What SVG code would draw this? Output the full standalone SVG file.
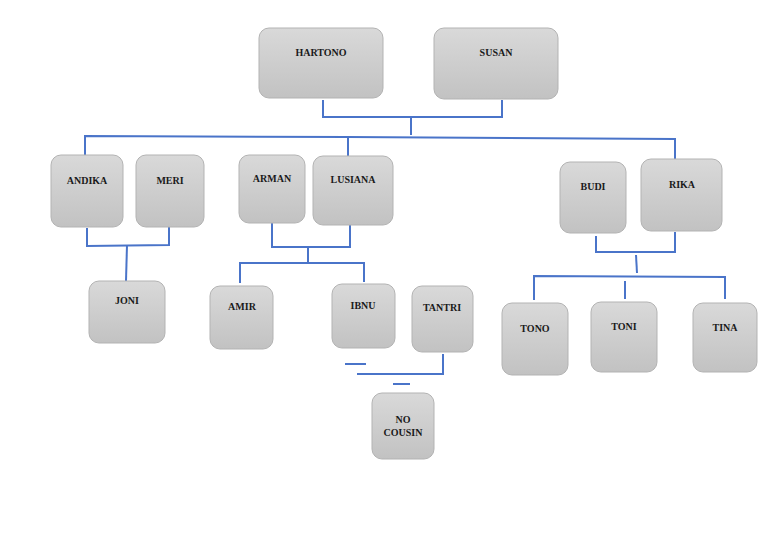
<svg xmlns="http://www.w3.org/2000/svg" width="768" height="543" viewBox="0 0 768 543">
<defs>
<linearGradient id="g" x1="0" y1="0" x2="0" y2="1">
<stop offset="0" stop-color="#d9d9d9"/>
<stop offset="1" stop-color="#c2c2c2"/>
</linearGradient>
<style>
.n rect{fill:url(#g);stroke:#b3b3b3;stroke-width:1}
.n text{font-family:"Liberation Serif",serif;font-weight:bold;font-size:10px;fill:#1a1a1a;text-anchor:middle}
.c{stroke:#4a74c9;stroke-width:2;fill:none}
</style>
</defs>
<rect width="768" height="543" fill="#fff"/>
<g id="connectors" class="c">
<polyline points="323,100 323,117 502,117 502,100"/>
<line x1="411" y1="117" x2="411" y2="135"/>
<polyline points="85,155 85,136 348,137 675,139 675,159"/>
<line x1="348" y1="137" x2="348" y2="156"/>
<polyline points="87,228 87,246 169,245 169,227"/>
<line x1="127" y1="245" x2="126" y2="281"/>
<polyline points="272,223 272,247 350,247 350,225"/>
<line x1="308" y1="247" x2="308" y2="263"/>
<polyline points="240,283 240,263 364,263 364,282"/>
<line x1="345" y1="364" x2="366" y2="364"/>
<polyline points="357,374 443,374 443,354"/>
<line x1="393" y1="384" x2="410" y2="384"/>
<polyline points="596,236 596,252 675,252 675,232"/>
<line x1="636" y1="255" x2="637" y2="273"/>
<polyline points="534,300 534,276 725,277 725,299"/>
<line x1="625" y1="281" x2="625" y2="299"/>
</g>
<g id="hartono" class="n"><rect x="259" y="28" width="124" height="70" rx="10"/><text x="321" y="56">HARTONO</text></g>
<g id="susan" class="n"><rect x="434" y="28" width="124" height="71" rx="10"/><text x="496" y="56">SUSAN</text></g>
<g id="andika" class="n"><rect x="51" y="155" width="72" height="72" rx="10"/><text x="87" y="184">ANDIKA</text></g>
<g id="meri" class="n"><rect x="136" y="155" width="68" height="72" rx="10"/><text x="170" y="184">MERI</text></g>
<g id="arman" class="n"><rect x="239" y="155" width="66" height="68" rx="10"/><text x="272" y="182">ARMAN</text></g>
<g id="lusiana" class="n"><rect x="313" y="156" width="80" height="69" rx="10"/><text x="353" y="183">LUSIANA</text></g>
<g id="budi" class="n"><rect x="560" y="162" width="66" height="71" rx="10"/><text x="593" y="190">BUDI</text></g>
<g id="rika" class="n"><rect x="641" y="159" width="81" height="72" rx="10"/><text x="682" y="188">RIKA</text></g>
<g id="joni" class="n"><rect x="89" y="281" width="76" height="62" rx="10"/><text x="127" y="304">JONI</text></g>
<g id="amir" class="n"><rect x="210" y="286" width="63" height="63" rx="10"/><text x="242" y="310">AMIR</text></g>
<g id="ibnu" class="n"><rect x="332" y="284" width="63" height="64" rx="10"/><text x="363" y="309">IBNU</text></g>
<g id="tantri" class="n"><rect x="412" y="286" width="61" height="66" rx="10"/><text x="442" y="311">TANTRI</text></g>
<g id="nocousin" class="n"><rect x="372" y="393" width="62" height="66" rx="10"/><text x="403" y="423">NO</text><text x="403" y="436">COUSIN</text></g>
<g id="tono" class="n"><rect x="502" y="303" width="66" height="72" rx="10"/><text x="535" y="332">TONO</text></g>
<g id="toni" class="n"><rect x="591" y="302" width="66" height="70" rx="10"/><text x="624" y="330">TONI</text></g>
<g id="tina" class="n"><rect x="693" y="303" width="64" height="69" rx="10"/><text x="725" y="331">TINA</text></g>
</svg>
